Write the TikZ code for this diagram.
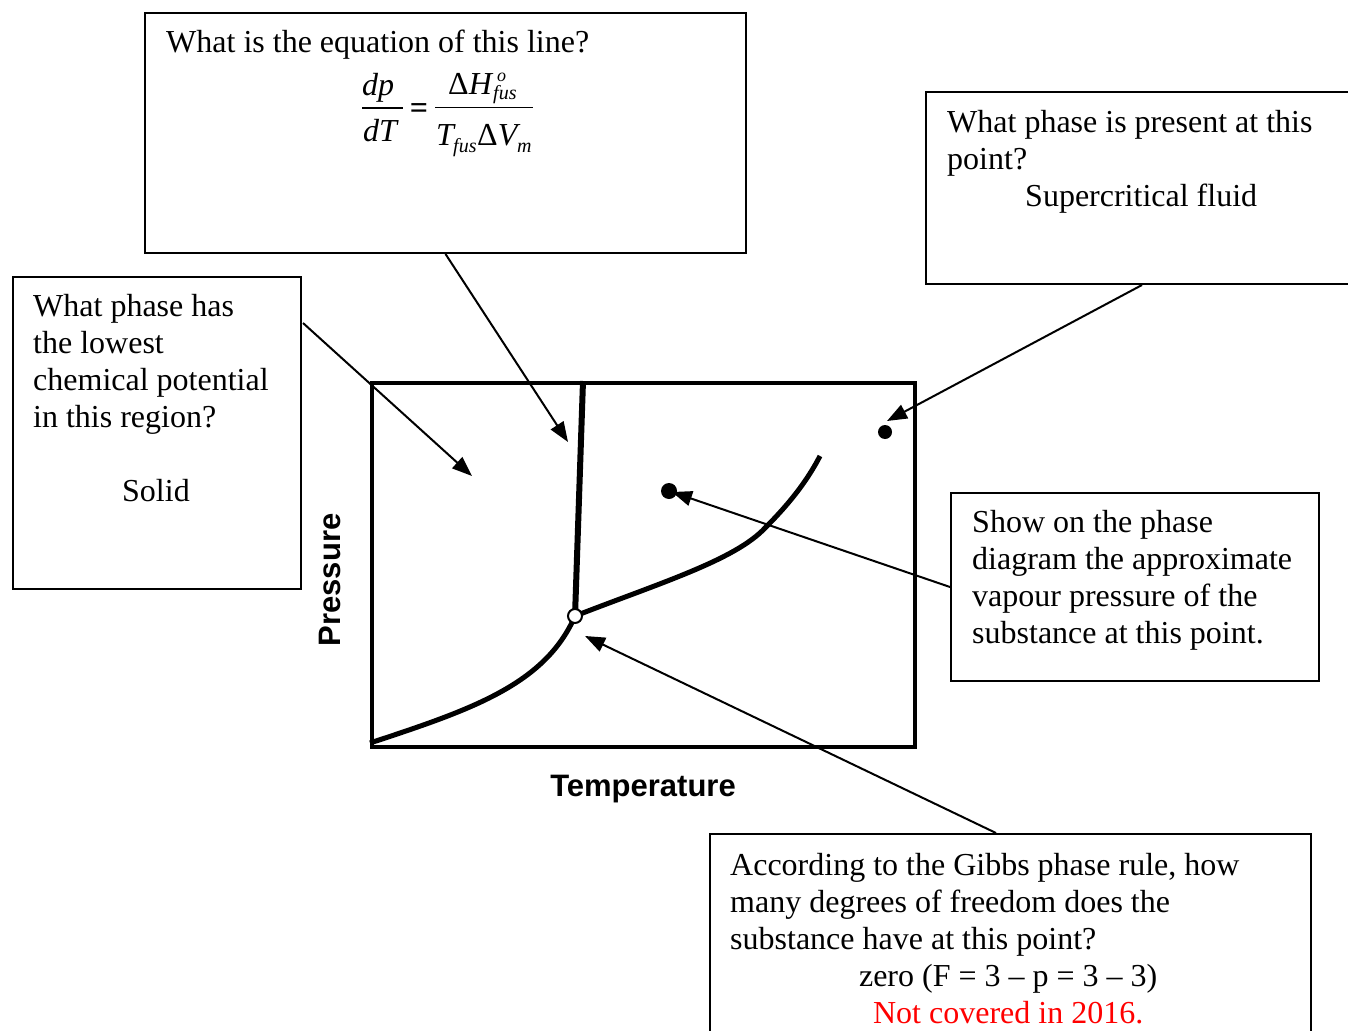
\documentclass[tikz,border=0pt]{standalone}
\usepackage{fontspec}
\setmainfont{Liberation Serif}
\newfontfamily\labelfont{Liberation Sans}
\usetikzlibrary{arrows.meta}
\begin{document}
\begin{tikzpicture}[x=1pt,y=-1pt,
  box/.style={draw, line width=2pt, rectangle, anchor=north west, inner sep=0pt},
  txt/.style={anchor=north west, inner sep=0pt, align=left, font=\fontsize{32}{37}\selectfont},
  eqbig/.style={anchor=base west, inner sep=0pt, font=\fontsize{32}{37}\selectfont},
  eqsmall/.style={anchor=base west, inner sep=0pt, font=\fontsize{20}{24}\selectfont\itshape},
  fracbar/.style={line width=1.5pt},
  arr/.style={line width=2pt, -{Triangle[length=20pt,width=15pt]}},
  phaseline/.style={line width=5pt},
  axlabel/.style={font=\labelfont\bfseries\fontsize{31}{36}\selectfont, inner sep=0pt}]
\clip (0,0) rectangle (1348,1030);
% question boxes
\node[box, minimum width=601pt, minimum height=240pt] (qeq) at (144,12) {};
\node[box, minimum width=432pt, minimum height=192pt] (qsc) at (925,91) {};
\node[box, minimum width=288pt, minimum height=312pt] (qsol) at (12,276) {};
\node[box, minimum width=368pt, minimum height=188pt] (qvp) at (950,492) {};
\node[box, minimum width=601pt, minimum height=220pt] (qgib) at (709,833) {};
% texts
\node[txt] (teq) at (166,26.1) {\strut What is the equation of this line?};
% equation
\node[eqbig] (edp) at (362,96) {\itshape dp};
\node[eqbig] (edT) at (363,141) {\itshape dT};
\draw[fracbar] (362,108) -- (403,108);
\node[inner sep=0pt, font=\fontsize{32}{37}\selectfont\bfseries] (eeq) at (419,111) {=};
\draw[fracbar] (435,107.5) -- (533,107.5);
\node[eqbig] (edH) at (448,95) {Δ\textit{H}};
\node[eqsmall, font=\fontsize{18}{22}\selectfont\itshape] (eo) at (497,82) {o};
\node[eqsmall] (efus1) at (493,100) {fus};
\node[eqbig] (eT) at (436,145) {\itshape T};
\node[eqsmall] (efus2) at (453,152) {fus};
\node[eqbig] (edV) at (477,145) {Δ\textit{V}};
\node[eqsmall] (em) at (517,152) {m};
\node[txt] (tsc) at (947,106.1) {\strut What phase is present at this\\point?\\\hspace*{78pt}Supercritical fluid};
\node[txt] (tsol) at (33,290.1) {\strut What phase has\\the lowest\\chemical potential\\in this region?\\[37pt]\hspace*{89pt}Solid};
\node[txt] (tvp) at (972,506.1) {\strut Show on the phase\\diagram the approximate\\vapour pressure of the\\substance at this point.};
\node[txt] (tgib) at (730,849.1) {\strut According to the Gibbs phase rule, how\\many degrees of freedom does the\\substance have at this point?\\\makebox[556pt][c]{zero (F = 3 – p = 3 – 3)}\\\makebox[556pt][c]{\color{red}Not covered in 2016.}};
% phase diagram
\node[draw, line width=4pt, minimum width=543pt, minimum height=364pt, anchor=north west, inner sep=0pt] (plot) at (370,381) {};
\coordinate (tp) at (575,616);
\coordinate (fustop) at (583,381);
\coordinate (origin) at (370,743);
\coordinate (crit) at (820,456);
\draw[phaseline, line width=6pt] (fustop) -- (tp);
\draw[phaseline] (origin) .. controls (470,710) and (545,685) .. (tp);
\draw[phaseline] (tp) .. controls (660,583) and (735,560) .. (765,528) .. controls (785,508) and (805,485) .. (crit);
\node[circle, draw, fill=white, line width=2pt, minimum size=14pt, inner sep=0pt] (tpn) at (tp) {};
\node[circle, fill, minimum size=16pt, inner sep=0pt] (dvp) at (669,491) {};
\node[circle, fill, minimum size=14pt, inner sep=0pt] (dsc) at (885,432) {};
% axis labels
\node[axlabel, rotate=90] (ylab) at (330,580) {Pressure};
\node[axlabel] (xlab) at (643,789) {Temperature};
% arrows
\coordinate (aeq) at (568,442);
\coordinate (ssol) at (303,323);
\coordinate (asol) at (472,476);
\coordinate (asc) at (887,421);
\coordinate (avp) at (672,492);
\coordinate (sgib) at (996,833);
\coordinate (agib) at (585,636);
\draw[arr] (qeq.south) -- (aeq);
\draw[arr] (ssol) -- (asol);
\draw[arr] (qsc.south) -- (asc);
\draw[arr] (qvp.west) -- (avp);
\draw[arr] (sgib) -- (agib);
\end{tikzpicture}
\end{document}
